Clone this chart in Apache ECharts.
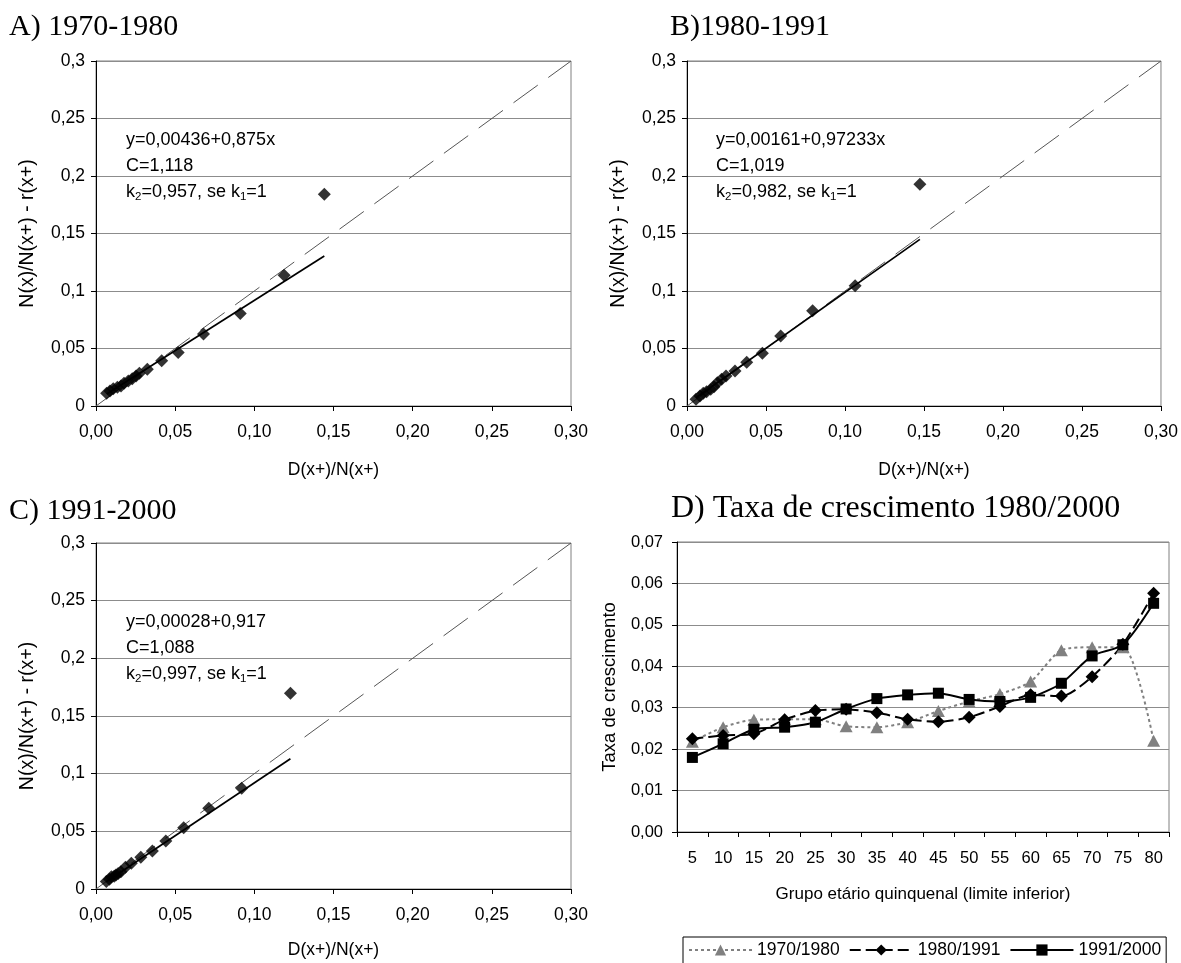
<!DOCTYPE html>
<html>
<head>
<meta charset="utf-8">
<title>Painel</title>
<script src="https://cdn.jsdelivr.net/npm/echarts@6/dist/echarts.min.js"></script>
<style>
  html, body { margin: 0; padding: 0; background: #fff; }
  #chart { width: 1181px; height: 963px; }
</style>
</head>
<body>
<div id="chart"></div>
<script>
// pontos [D(x+)/N(x+), N(x)/N(x+) - r(x+)]
var pontosA = [[0.0067,0.0110],[0.0088,0.0130],[0.0109,0.0151],[0.0135,0.0162],[0.0158,0.0174],
  [0.0177,0.0197],[0.0204,0.0217],[0.0229,0.0238],[0.0253,0.0261],[0.0274,0.0284],
  [0.0324,0.0319],[0.0415,0.0394],[0.0519,0.0466],[0.0679,0.0626],[0.0911,0.0805],[0.1442,0.1842],
  [0.1188,0.1138]];
var pontosB = [[0.0057,0.0058],[0.0082,0.0087],[0.0103,0.0110],[0.0124,0.0125],[0.0150,0.0145],
  [0.0171,0.0168],[0.0192,0.0203],[0.0219,0.0232],[0.0247,0.0261],[0.0304,0.0304],
  [0.0378,0.0380],[0.0477,0.0458],[0.0593,0.0609],[0.0795,0.0829],[0.1064,0.1045],[0.1474,0.1929]];
var pontosC = [[0.0065,0.0064],[0.0085,0.0085],[0.0097,0.0107],[0.0115,0.0110],[0.0126,0.0121],
  [0.0140,0.0135],[0.0157,0.0150],[0.0186,0.0188],[0.0223,0.0223],[0.0283,0.0275],
  [0.0356,0.0330],[0.0441,0.0417],[0.0554,0.0532],[0.0712,0.0700],[0.0920,0.0874],[0.1228,0.1698]];

// retas ajustadas (extremos lidos) e diagonal y=x
var retaA = [[0.0068,0.0104],[0.1442,0.1305]];
var retaB = [[0.0057,0.0072],[0.1474,0.1449]];
var retaC = [[0.0065,0.0063],[0.1228,0.1129]];
var diagonal = [[0,0],[0.3,0.3]];

var textoA = ['y=0,00436+0,875x', 'C=1,118', ['0,957', '1']];
var textoB = ['y=0,00161+0,97233x', 'C=1,019', ['0,982', '1']];
var textoC = ['y=0,00028+0,917', 'C=1,088', ['0,997', '1']];

// D) taxa de crescimento por grupo etario
var grupos = ['5','10','15','20','25','30','35','40','45','50','55','60','65','70','75','80'];
var taxa7080 = [0.0218,0.0253,0.0271,0.0272,0.0272,0.0255,0.0253,0.0265,0.0292,0.0315,0.0333,0.0363,0.0439,0.0446,0.0446,0.0220];
var taxa8091 = [0.0225,0.0233,0.0237,0.0271,0.0293,0.0296,0.0288,0.0272,0.0266,0.0277,0.0303,0.0331,0.0328,0.0375,0.0453,0.0576];
var taxa9100 = [0.0180,0.0213,0.0248,0.0253,0.0265,0.0297,0.0322,0.0331,0.0335,0.0320,0.0315,0.0325,0.0359,0.0425,0.0452,0.0552];

var SANS = '"Liberation Sans", Arial, sans-serif';
var SERIF = '"Liberation Serif", "Times New Roman", serif';

var chart = echarts.init(document.getElementById('chart'));

function virgula2(v) { return v.toFixed(2).replace('.', ','); }
function virgulaG(v) { return String(Math.round(v * 1000) / 1000).replace('.', ','); }

function eixoX(i, nameGap) {
  return {
    type: 'value', gridIndex: i, min: 0, max: 0.3, interval: 0.05,
    name: 'D(x+)/N(x+)', nameLocation: 'middle', nameGap: nameGap,
    nameTextStyle: { fontFamily: SANS, fontSize: 17.5, color: '#000' },
    axisLine: { onZero: false, lineStyle: { color: '#000', width: 1 } },
    axisTick: { show: true, length: 5, lineStyle: { color: '#000' } },
    axisLabel: { formatter: virgula2, margin: 17, fontFamily: SANS, fontSize: 17.5, color: '#000' },
    splitLine: { show: false }
  };
}
function eixoY(i) {
  return {
    type: 'value', gridIndex: i, min: 0, max: 0.3, interval: 0.05,
    name: 'N(x)/N(x+) - r(x+)', nameLocation: 'middle', nameGap: 58, nameRotate: 90,
    nameTextStyle: { fontFamily: SANS, fontSize: 19.5, color: '#000' },
    axisLine: { show: true, onZero: false, lineStyle: { color: '#000', width: 1 } },
    axisTick: { show: true, length: 5, lineStyle: { color: '#000' } },
    axisLabel: { formatter: virgulaG, margin: 11, fontFamily: SANS, fontSize: 17.5, color: '#000' },
    splitLine: { show: true, lineStyle: { color: '#8c8c8c', width: 1 } }
  };
}

function painel(i, pontos, reta) {
  return [
    { type: 'line', xAxisIndex: i, yAxisIndex: i, data: diagonal, symbol: 'none', silent: true,
      lineStyle: { color: '#555', width: 1, type: [30, 13] }, z: 1 },
    { type: 'line', xAxisIndex: i, yAxisIndex: i, data: reta, symbol: 'none', silent: true,
      lineStyle: { color: '#000', width: 1.7 }, z: 2 },
    { type: 'scatter', xAxisIndex: i, yAxisIndex: i, data: pontos, symbol: 'diamond',
      symbolSize: 13, itemStyle: { color: '#000' }, z: 3 }
  ];
}

function linhaTexto(x, y, t) {
  return { type: 'text', x: x, y: y, style: { text: t, fontFamily: SANS, fontSize: 18, fill: '#000', verticalAlign: 'middle' } };
}
function anotacao(x, y, t) {
  return [
    linhaTexto(x, y, t[0]),
    linhaTexto(x, y + 26, t[1]),
    { type: 'text', x: x, y: y + 52, style: {
        text: '{n|k}{s|2}{n|=' + t[2][0] + ', se k}{s|1}{n|=' + t[2][1] + '}',
        verticalAlign: 'middle', fill: '#000',
        rich: {
          n: { fontFamily: SANS, fontSize: 18, lineHeight: 21, fill: '#000' },
          s: { fontFamily: SANS, fontSize: 11.5, lineHeight: 11, verticalAlign: 'bottom', fill: '#000' }
        }
    } }
  ];
}
function titulo(x, y, t, size) {
  return { type: 'text', x: x, y: y, style: { text: t, fontFamily: SERIF, fontSize: size, fill: '#000', verticalAlign: 'middle' } };
}

var option = {
  backgroundColor: '#fff',
  animation: false,
  grid: [
    { left: 96, top: 61, width: 475, height: 345, show: true, borderColor: '#808080', borderWidth: 1 },
    { left: 687, top: 61, width: 474, height: 345, show: true, borderColor: '#808080', borderWidth: 1 },
    { left: 96, top: 543, width: 475, height: 346, show: true, borderColor: '#808080', borderWidth: 1 },
    { left: 677, top: 542, width: 492, height: 290, show: true, borderColor: '#808080', borderWidth: 1 }
  ],
  xAxis: [
    eixoX(0, 55), eixoX(1, 55), eixoX(2, 52),
    {
      type: 'category', gridIndex: 3, data: grupos, boundaryGap: true,
      name: 'Grupo etário quinquenal (limite inferior)', nameLocation: 'middle', nameGap: 54,
      nameTextStyle: { fontFamily: SANS, fontSize: 17, color: '#000' },
      axisLine: { lineStyle: { color: '#000', width: 1 } },
      axisTick: { show: true, interval: 0, length: 5, lineStyle: { color: '#000' } },
      axisLabel: { interval: 0, margin: 18, fontFamily: SANS, fontSize: 16.5, color: '#000' },
      splitLine: { show: false }
    }
  ],
  yAxis: [
    eixoY(0), eixoY(1), eixoY(2),
    {
      type: 'value', gridIndex: 3, min: 0, max: 0.07, interval: 0.01,
      name: 'Taxa de crescimento', nameLocation: 'middle', nameGap: 58, nameRotate: 90,
      nameTextStyle: { fontFamily: SANS, fontSize: 18.5, color: '#000' },
      axisLine: { show: true, lineStyle: { color: '#000', width: 1 } },
      axisTick: { show: true, length: 5, lineStyle: { color: '#000' } },
      axisLabel: { formatter: virgula2, margin: 14, fontFamily: SANS, fontSize: 16.5, color: '#000' },
      splitLine: { show: true, lineStyle: { color: '#8c8c8c', width: 1 } }
    }
  ],
  legend: {
    data: ['1970/1980', '1980/1991', '1991/2000'],
    left: 683, top: 937, orient: 'horizontal',
    padding: [4, 5, 10, 5], itemWidth: 63, itemHeight: 14, itemGap: 9,
    borderColor: '#000', borderWidth: 1, backgroundColor: '#fff',
    textStyle: { fontFamily: SANS, fontSize: 17.5, color: '#000' }
  },
  series: [].concat(
    painel(0, pontosA, retaA),
    painel(1, pontosB, retaB),
    painel(2, pontosC, retaC),
    [
      { name: '1970/1980', type: 'line', xAxisIndex: 3, yAxisIndex: 3, data: taxa7080, smooth: 0.25,
        symbol: 'triangle', symbolSize: [13, 12], itemStyle: { color: '#808080' },
        lineStyle: { color: '#808080', width: 2, type: [3, 3] } },
      { name: '1980/1991', type: 'line', xAxisIndex: 3, yAxisIndex: 3, data: taxa8091, smooth: 0.25,
        symbol: 'diamond', symbolSize: 13, itemStyle: { color: '#000' },
        lineStyle: { color: '#000', width: 2, type: [11, 5] } },
      { name: '1991/2000', type: 'line', xAxisIndex: 3, yAxisIndex: 3, data: taxa9100, smooth: 0.25,
        symbol: 'rect', symbolSize: 11, itemStyle: { color: '#000' },
        lineStyle: { color: '#000', width: 2 } }
    ]
  ),
  graphic: [].concat(
    [titulo(9, 27, 'A) 1970-1980', 30),
     titulo(670, 27, 'B)1980-1991', 30),
     titulo(9, 511, 'C) 1991-2000', 30),
     titulo(671, 509, 'D) Taxa de crescimento 1980/2000', 32)],
    anotacao(126, 140, textoA),
    anotacao(716, 140, textoB),
    anotacao(126, 622, textoC)
  )
};

chart.setOption(option);
</script>
</body>
</html>
